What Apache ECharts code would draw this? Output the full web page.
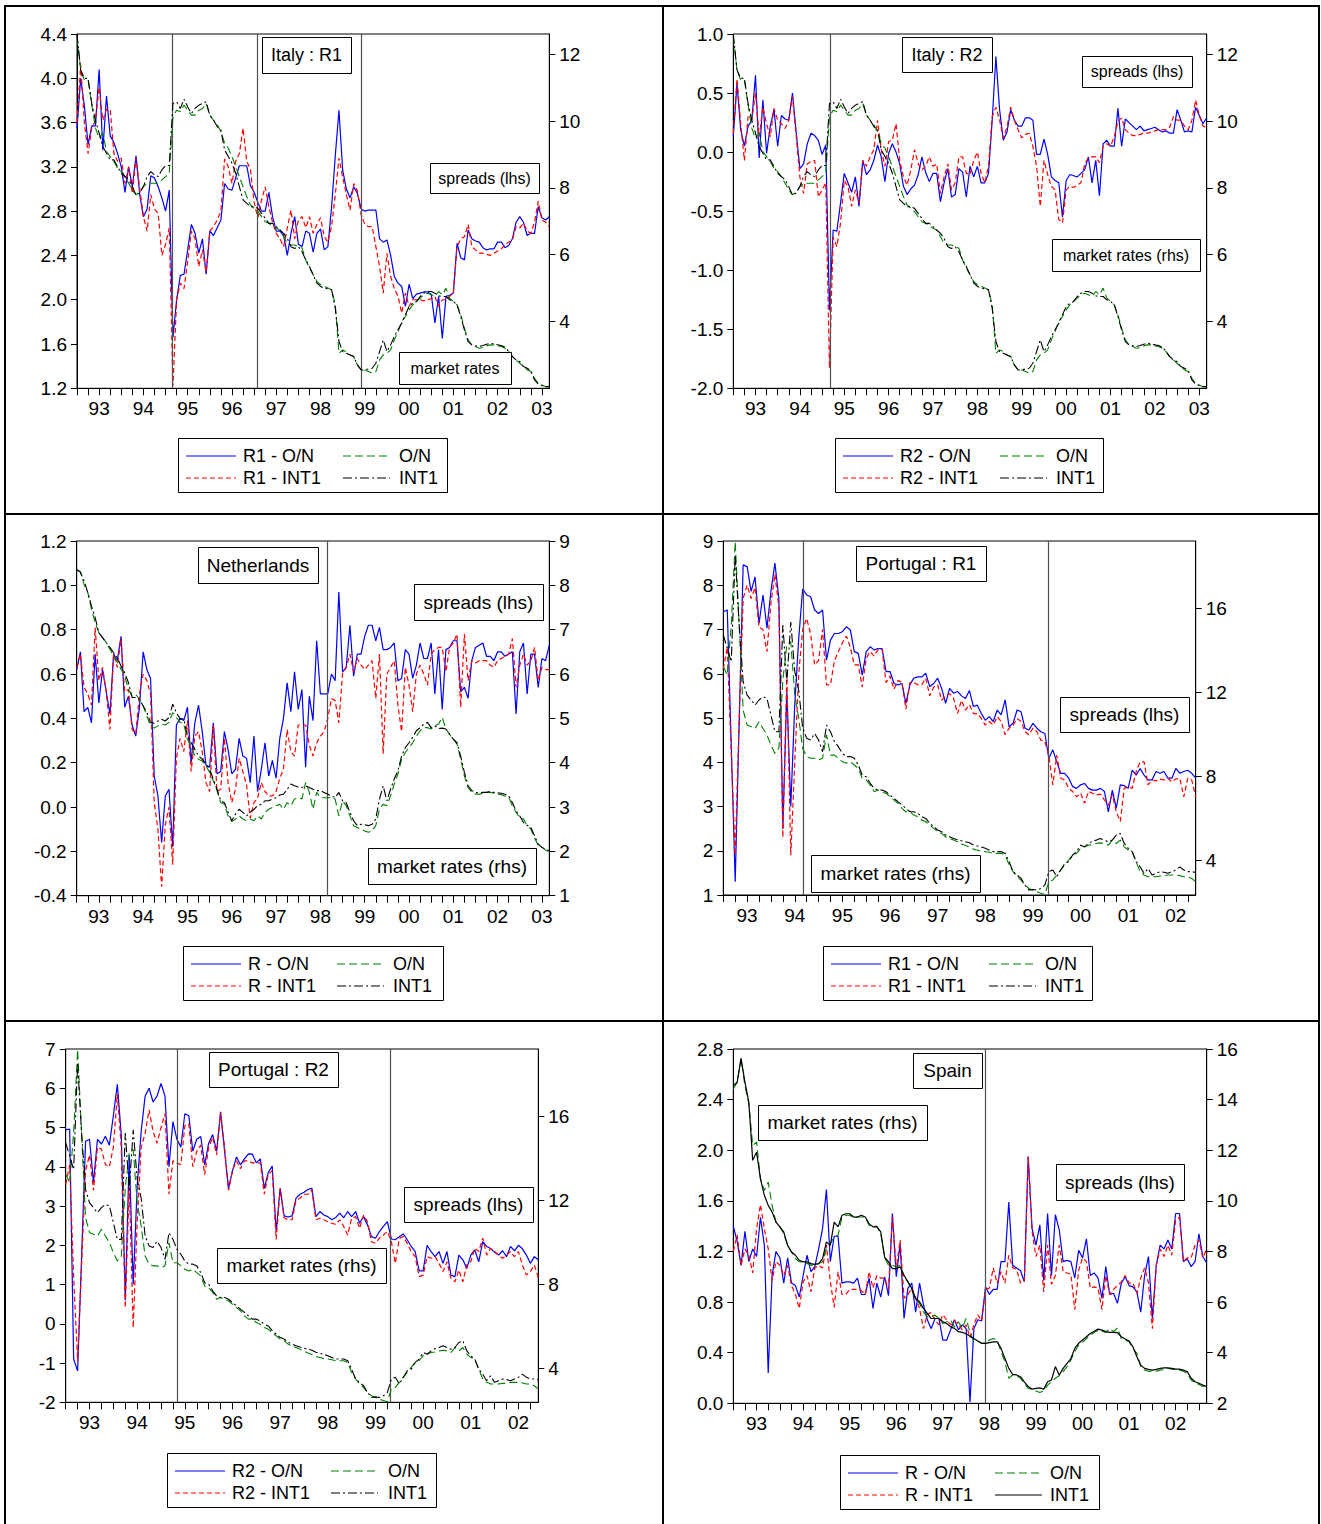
<!DOCTYPE html>
<html><head><meta charset="utf-8">
<script src="https://cdn.jsdelivr.net/npm/echarts@6/dist/echarts.min.js"></script>
<style>html,body{margin:0;padding:0;background:#fff}#c{width:1321px;height:1524px}</style>
</head><body><div id="c"></div>
<script>
// ---------------- DATA (monthly, first point = Jan 1993) ----------------
const YEARS = ['93','94','95','96','97','98','99','00','01','02','03'];

// Italy market rates (rhs, %)
const italyINT1 = [12.61,11.53,11.28,11.28,10.53,10.03,9.64,9.24,9.04,8.84,
8.84,8.64,8.44,8.34,8.24,8.04,7.79,7.84,8.04,8.34,
8.49,8.39,8.34,8.54,8.67,8.67,10.53,10.58,10.38,10.66,
10.43,10.23,10.38,10.48,10.53,10.58,10.18,10.03,9.84,9.74,
9.14,8.94,8.74,8.44,8.04,7.64,7.54,7.44,7.44,7.39,
7.24,7.09,6.94,6.94,6.84,6.74,6.64,6.49,6.24,6.19,
6.24,6.09,5.84,5.65,5.4,5.15,5.05,5.0,4.98,4.95,
4.4,3.4,3.1,3.05,3.0,2.95,2.7,2.55,2.55,2.58,
2.6,2.75,3.1,3.45,3.1,3.3,3.55,3.75,3.95,4.2,
4.45,4.55,4.6,4.75,4.85,4.9,4.9,4.85,4.77,4.75,
4.75,4.65,4.6,4.5,4.15,3.75,3.4,3.3,3.27,3.25,
3.28,3.32,3.35,3.33,3.3,3.28,3.23,3.1,2.95,2.85,
2.8,2.65,2.6,2.53,2.25,2.13,2.08,2.05,2.05];
const italyON = [12.53,11.53,11.23,11.23,10.48,9.79,9.49,9.64,9.09,8.94,
8.79,8.59,8.49,8.34,8.14,7.94,7.79,7.89,8.04,8.14,
8.14,8.14,8.14,8.24,8.34,8.44,10.13,10.33,10.28,10.48,
10.33,10.18,10.18,10.33,10.38,10.53,10.18,10.03,9.89,9.69,
9.34,9.19,8.94,8.64,8.34,8.04,7.74,7.49,7.39,7.29,
7.14,6.99,6.94,6.86,6.79,6.74,6.54,6.34,6.29,6.29,
6.24,6.2,5.84,5.6,5.4,5.2,5.1,5.05,5.0,4.95,
4.5,3.05,3.15,3.1,3.0,2.95,2.7,2.55,2.55,2.5,
2.45,2.5,2.85,3.0,3.05,3.15,3.45,3.7,4.0,4.15,
4.35,4.5,4.6,4.7,4.8,4.85,4.8,4.75,4.9,4.8,
5.0,4.7,4.6,4.5,4.2,3.8,3.45,3.3,3.25,3.2,
3.22,3.27,3.3,3.3,3.27,3.25,3.2,3.1,2.95,2.85,
2.75,2.65,2.55,2.5,2.3,2.15,2.1,2.05,2.05];

// Italy R1 spreads (lhs)
const itR1ON = [3.55,4.0,3.75,3.4,3.57,3.57,4.08,3.35,3.84,3.48,
3.42,3.32,3.2,2.97,3.2,3.02,3.3,2.95,2.75,2.82,
3.12,3.1,3.02,2.92,2.8,2.99,1.66,2.0,2.22,2.23,
2.45,2.68,2.6,2.42,2.55,2.23,2.62,2.58,2.65,2.72,
3.05,3.0,2.99,3.1,3.21,3.21,3.21,3.03,2.97,2.88,
2.8,2.8,2.97,2.75,2.62,2.62,2.58,2.4,2.6,2.75,
2.5,2.48,2.62,2.6,2.43,2.6,2.64,2.45,2.48,2.84,
3.3,3.71,3.17,3.0,2.92,3.02,2.96,2.82,2.8,2.81,
2.81,2.81,2.55,2.52,2.54,2.4,2.21,2.15,2.12,1.94,
2.14,2.01,2.05,2.06,2.07,2.07,2.05,1.79,2.03,1.65,
2.03,2.04,2.06,2.51,2.38,2.36,2.63,2.55,2.53,2.52,
2.47,2.45,2.46,2.46,2.52,2.52,2.47,2.49,2.55,2.7,
2.75,2.7,2.58,2.6,2.6,2.84,2.74,2.72,2.75];
const itR1INT1 = [3.6,4.12,3.6,3.32,3.55,3.62,3.92,3.62,3.72,3.72,
3.32,3.25,3.28,3.05,3.2,2.96,3.28,3.0,2.75,2.62,
2.95,2.82,2.78,2.4,2.5,2.65,1.22,2.0,2.15,2.1,
2.35,2.62,2.55,2.3,2.45,2.25,2.62,2.66,2.72,2.8,
3.27,3.2,3.05,3.25,3.32,3.55,3.25,3.18,2.88,2.74,
2.9,3.02,2.84,2.7,2.6,2.55,2.48,2.65,2.81,2.55,
2.72,2.75,2.65,2.75,2.6,2.68,2.74,2.57,2.52,2.66,
2.95,3.28,3.11,2.95,2.81,3.05,2.98,2.77,2.68,2.66,
2.66,2.48,2.3,2.06,2.42,2.21,2.1,2.03,1.88,2.06,
1.94,2.0,2.0,2.0,1.99,2.0,2.01,2.03,1.94,2.0,
2.0,2.03,2.06,2.48,2.55,2.57,2.68,2.48,2.45,2.42,
2.42,2.41,2.4,2.42,2.44,2.46,2.5,2.52,2.54,2.66,
2.65,2.69,2.62,2.6,2.7,2.89,2.72,2.7,2.66];

// Italy R2 spreads (lhs)
const itR2ON = [0.13,0.58,0.19,0.05,0.22,0.27,0.65,-0.05,0.44,-0.01,
0.22,0.36,0.05,0.31,0.28,0.27,0.5,0.17,-0.14,-0.1,
0.07,0.16,0.14,0.1,-0.02,0.06,-1.34,-0.66,-0.67,-0.43,
-0.18,-0.26,-0.34,-0.21,-0.46,-0.07,-0.19,-0.15,-0.07,0.06,
-0.04,-0.25,-0.01,0.07,0.0,-0.1,-0.29,-0.36,-0.31,-0.28,
-0.19,-0.04,-0.17,-0.25,-0.18,-0.18,-0.42,-0.26,-0.14,-0.38,
-0.36,-0.14,-0.17,-0.38,-0.12,-0.21,-0.12,-0.26,-0.26,-0.18,
0.27,0.81,0.36,0.1,0.17,0.36,0.27,0.22,0.22,0.29,
0.29,0.27,-0.02,-0.02,0.11,-0.02,-0.21,-0.24,-0.26,-0.55,
-0.24,-0.19,-0.2,-0.21,-0.18,-0.15,-0.04,-0.26,-0.07,-0.37,
0.07,0.1,0.05,0.05,0.37,0.05,0.28,0.25,0.22,0.19,
0.22,0.18,0.19,0.2,0.21,0.19,0.17,0.18,0.16,0.16,
0.36,0.27,0.17,0.18,0.17,0.38,0.31,0.24,0.29];
const itR2INT1 = [0.16,0.62,0.24,-0.07,0.3,0.27,0.5,0.13,0.38,0.24,
0.13,0.37,0.27,0.24,0.2,0.27,0.47,0.14,-0.21,-0.35,
-0.1,-0.08,-0.07,-0.38,-0.32,-0.26,-1.83,-0.72,-0.8,-0.6,
-0.24,-0.29,-0.46,-0.32,-0.43,-0.07,-0.12,-0.04,0.02,0.27,
0.02,-0.12,0.09,0.1,0.24,-0.07,-0.21,-0.28,-0.15,0.02,
-0.1,-0.15,-0.12,-0.04,-0.12,-0.1,-0.35,-0.21,-0.1,-0.32,
-0.26,-0.04,-0.04,-0.18,-0.19,-0.07,0.0,-0.18,-0.26,-0.12,
0.3,0.38,0.27,0.12,0.21,0.38,0.27,0.19,0.12,0.15,
0.16,0.05,-0.12,-0.46,-0.07,-0.19,-0.29,-0.32,-0.57,-0.6,
-0.32,-0.29,-0.3,-0.28,-0.26,-0.1,-0.05,-0.04,-0.04,-0.09,
0.05,0.07,0.05,0.13,0.26,0.29,0.19,0.16,0.14,0.14,
0.15,0.16,0.16,0.17,0.18,0.19,0.19,0.19,0.21,0.3,
0.27,0.27,0.22,0.19,0.27,0.44,0.31,0.22,0.21];

// Netherlands
const nlRON = [0.62,0.70,0.43,0.45,0.38,0.69,0.47,0.62,0.52,0.42,
0.69,0.66,0.77,0.45,0.5,0.37,0.32,0.45,0.70,0.62,
0.58,0.14,0.05,-0.16,0.05,0.08,-0.18,0.37,0.4,0.39,
0.45,0.2,0.38,0.46,0.34,0.19,0.18,0.38,0.15,0.16,
0.34,0.26,0.15,0.17,0.31,0.23,0.22,0.11,0.32,0.07,
0.17,0.29,0.14,0.21,0.13,0.31,0.4,0.56,0.43,0.61,
0.44,0.53,0.18,0.5,0.39,0.75,0.51,0.51,0.51,0.6,
0.57,0.97,0.61,0.63,0.82,0.59,0.69,0.69,0.77,0.82,
0.82,0.75,0.81,0.71,0.71,0.72,0.74,0.57,0.58,0.71,
0.69,0.58,0.64,0.74,0.67,0.67,0.74,0.51,0.71,0.44,
0.71,0.72,0.75,0.75,0.52,0.54,0.49,0.66,0.72,0.73,
0.74,0.68,0.68,0.66,0.7,0.7,0.68,0.69,0.7,0.42,
0.7,0.74,0.51,0.69,0.69,0.54,0.67,0.66,0.73];
const nlRINT1 = [0.63,0.69,0.54,0.51,0.46,0.81,0.57,0.63,0.52,0.35,
0.69,0.63,0.76,0.52,0.53,0.35,0.33,0.51,0.6,0.57,
0.51,0.02,-0.1,-0.36,-0.08,0.0,-0.26,0.22,0.31,0.25,
0.39,0.16,0.32,0.34,0.25,0.11,0.07,0.37,0.07,0.08,
0.31,0.11,0.02,0.08,0.22,0.16,0.1,-0.05,0.02,0.04,
0.11,0.07,0.05,0.05,0.07,0.13,0.17,0.35,0.25,0.23,
0.37,0.37,0.37,0.28,0.23,0.29,0.32,0.34,0.4,0.49,
0.48,0.38,0.6,0.63,0.69,0.61,0.67,0.64,0.62,0.64,
0.66,0.49,0.69,0.24,0.6,0.63,0.66,0.46,0.34,0.63,
0.55,0.43,0.6,0.64,0.6,0.55,0.69,0.71,0.72,0.72,
0.61,0.72,0.74,0.78,0.45,0.78,0.57,0.66,0.65,0.66,
0.66,0.66,0.64,0.63,0.66,0.67,0.68,0.69,0.76,0.54,
0.64,0.69,0.64,0.66,0.72,0.57,0.63,0.62,0.62];
const nlINT1 = [8.35,8.3,8.1,7.84,7.53,7.27,6.93,6.82,6.71,6.6,
6.48,6.37,6.18,6.03,5.81,5.47,5.47,5.43,5.28,5.13,
4.91,4.89,4.94,4.98,4.94,5.02,5.32,5.13,4.99,4.99,
4.6,4.45,4.3,4.15,4.08,3.97,3.85,3.63,3.4,3.14,
3.1,2.88,2.69,2.84,2.95,2.88,2.8,2.88,2.95,3.03,
3.06,3.14,3.14,3.18,3.21,3.27,3.29,3.4,3.52,3.48,
3.45,3.44,3.48,3.44,3.4,3.37,3.37,3.33,3.29,3.25,
3.21,3.33,3.14,3.1,2.88,2.69,2.58,2.61,2.6,2.58,
2.61,2.73,3.18,3.48,3.14,3.4,3.63,3.82,4.15,4.34,
4.45,4.57,4.72,4.79,4.87,4.91,4.79,4.83,4.77,4.78,
4.76,4.64,4.53,4.45,4.15,3.78,3.48,3.37,3.33,3.32,
3.33,3.33,3.35,3.33,3.32,3.31,3.29,3.25,3.1,2.91,
2.8,2.65,2.59,2.54,2.35,2.16,2.09,2.05,2.01];
const nlON = [8.35,8.3,8.02,7.84,7.46,7.16,6.93,6.82,6.71,6.56,
6.41,6.26,6.11,5.96,5.66,5.51,5.54,5.43,5.28,5.06,
4.83,4.78,4.83,4.87,4.85,4.91,5.13,5.02,4.91,4.87,
4.53,4.34,4.15,4.08,4.04,3.93,3.78,3.59,3.37,3.1,
3.06,2.8,2.67,2.73,2.8,2.73,2.69,2.73,2.69,2.8,
2.73,2.88,2.95,2.99,3.03,3.06,2.95,3.1,3.03,3.18,
3.21,3.18,3.55,3.33,2.95,3.33,3.21,3.21,3.21,3.22,
3.18,2.8,3.14,3.03,2.8,2.58,2.54,2.5,2.46,2.43,
2.46,2.58,2.95,3.06,3.03,3.25,3.52,3.74,4.08,4.23,
4.34,4.45,4.6,4.72,4.79,4.79,4.76,4.83,4.87,5.02,
4.76,4.64,4.53,4.42,4.08,3.7,3.44,3.33,3.29,3.29,
3.31,3.33,3.33,3.31,3.29,3.28,3.25,3.21,3.03,2.88,
2.76,2.73,2.58,2.5,2.31,2.13,2.09,2.03,1.99];

// Portugal market rates (rhs)
const ptINT1 = [14.73,14.1,13.46,18.54,15.2,12.51,11.87,11.64,11.4,11.64,
11.8,11.72,10.93,10.13,10.13,15.2,12.5,15.35,13.0,12.1,
10.3,9.82,9.74,10.05,9.74,9.18,10.45,10.13,9.66,9.42,
9.1,8.95,8.95,8.87,8.55,8.07,7.99,7.68,7.44,7.36,
7.36,7.28,7.12,6.96,6.81,6.65,6.49,6.33,6.33,6.25,
6.09,6.01,5.78,5.62,5.46,5.38,5.22,5.14,5.06,5.0,
4.95,4.9,4.85,4.75,4.7,4.65,4.59,4.5,4.43,4.43,
4.43,4.35,3.95,3.48,3.32,3.16,2.84,2.6,2.63,2.6,
2.68,2.84,3.48,3.56,3.24,3.56,3.87,3.95,4.27,4.43,
4.74,4.66,4.82,4.93,4.98,5.06,4.98,4.9,4.98,5.22,
5.3,4.82,4.59,4.43,3.95,3.71,3.4,3.63,3.32,3.4,
3.48,3.45,3.4,3.48,3.56,3.71,3.56,3.48,3.48,3.44];
const ptON = [13.23,12.83,15.2,19.17,15.2,11.16,10.45,10.37,10.29,10.61,
10.29,9.98,9.5,9.1,9.34,12.59,14.26,14.41,11.88,10.77,
9.34,8.95,8.87,8.87,8.79,8.87,9.98,9.02,9.02,8.87,
8.71,8.63,8.71,8.55,8.39,7.91,7.84,7.6,7.28,7.36,
7.28,7.2,7.04,6.88,6.73,6.49,6.33,6.33,6.17,6.09,
5.93,5.85,5.7,5.54,5.38,5.3,5.14,5.06,4.98,4.9,
4.8,4.72,4.65,4.55,4.5,4.45,4.43,4.4,4.35,4.35,
4.35,4.27,3.79,3.48,3.24,3.08,2.84,2.68,2.6,2.52,
2.45,2.4,3.0,3.08,3.32,3.56,3.79,4.03,4.27,4.35,
4.59,4.66,4.74,4.77,4.82,4.85,4.82,4.74,4.98,4.82,
4.98,4.66,4.51,4.43,3.95,3.48,3.32,3.24,3.24,3.24,
3.27,3.29,3.32,3.32,3.32,3.29,3.24,3.24,3.16,3.0];

// Portugal R1 spreads (lhs)
const ptR1ON = [7.4,7.44,4.4,1.3,4.9,8.46,8.42,7.86,8.19,7.14,
7.78,7.03,7.86,8.5,7.7,2.5,5.6,3.0,5.3,6.8,
7.92,7.78,7.74,7.44,7.36,7.44,6.31,6.76,6.91,6.91,
6.95,7.06,6.99,6.5,6.46,5.97,6.5,6.61,6.54,6.57,
6.57,6.05,6.05,5.78,5.75,5.78,5.33,5.75,5.9,5.93,
5.93,6.01,5.71,5.78,5.9,5.67,5.33,5.67,5.56,5.6,
5.5,5.44,5.62,5.26,5.29,5.1,4.95,5.03,4.92,5.18,
5.07,5.41,4.8,4.88,5.18,5.14,4.77,4.73,4.88,4.77,
4.69,4.65,4.09,4.28,4.01,3.75,3.75,3.64,3.45,3.41,
3.49,3.52,3.41,3.37,3.37,3.41,3.34,2.88,3.37,2.96,
3.49,3.47,3.41,3.82,3.71,3.86,3.71,3.6,3.6,3.79,
3.75,3.79,3.64,3.64,3.86,3.75,3.79,3.82,3.75,3.64];
const ptR1INT1 = [6.1,6.6,4.2,1.9,5.0,7.7,8.0,7.7,7.95,7.05,
7.0,6.5,7.6,8.25,7.5,2.3,6.0,1.9,4.0,6.0,
7.0,7.25,6.9,6.2,6.3,7.0,5.75,5.75,6.3,6.5,
6.7,6.85,6.6,6.2,6.2,5.7,6.35,6.5,6.4,6.55,
6.55,5.8,5.95,5.65,5.85,5.8,5.2,5.8,5.8,5.75,
5.75,5.9,5.5,5.7,5.75,5.4,5.5,5.55,5.45,5.1,
5.4,5.18,5.3,5.1,5.1,4.99,4.84,4.92,4.84,5.03,
4.92,4.62,4.77,4.84,4.99,4.92,4.69,4.62,4.77,4.69,
4.5,4.47,4.16,3.49,4.16,3.64,3.6,3.41,3.34,3.22,
3.3,3.07,3.34,3.3,3.26,3.28,3.15,3.03,3.26,2.88,
2.66,3.41,3.45,3.41,3.79,4.01,4.01,3.49,3.6,3.58,
3.62,3.6,3.64,3.56,3.62,3.64,3.22,3.64,3.6,3.22];

// Portugal R2 spreads (lhs)
const ptR2ON = [4.94,4.96,-0.9,-1.2,1.7,4.65,4.7,3.6,4.7,4.58,
4.78,4.55,5.3,6.1,4.8,0.6,4.3,1.0,3.5,4.9,
5.8,6.0,5.65,5.8,6.12,5.8,4.0,5.15,4.7,4.5,
5.35,5.3,4.4,4.7,4.77,4.05,4.6,4.82,4.4,5.4,
4.4,3.45,3.9,4.25,4.05,4.2,4.33,4.32,4.1,4.2,
3.45,3.85,4.02,2.35,3.45,2.75,2.72,2.75,3.2,3.3,
3.35,3.42,3.45,2.73,2.86,2.77,2.73,2.65,2.71,2.82,
2.7,2.86,2.73,2.86,2.56,2.73,2.52,2.22,2.18,2.35,
2.48,2.6,2.16,2.14,2.22,2.29,2.14,1.97,1.84,1.35,
1.35,2.0,1.84,1.71,1.84,1.54,1.84,1.24,1.2,1.75,
1.63,1.41,1.75,1.88,1.58,2.09,1.97,1.92,1.82,1.75,
1.86,1.71,1.97,1.86,2.0,1.91,1.75,1.54,1.71,1.63];
const ptR2INT1 = [3.55,4.05,1.2,-0.95,1.5,3.9,4.3,3.4,4.5,4.45,
4.05,4.0,4.5,5.85,4.5,0.4,3.5,-0.1,2.6,4.5,
4.85,5.45,4.9,4.6,5.0,5.35,3.3,4.15,4.1,4.05,
5.05,5.1,4.0,4.4,4.55,3.8,4.5,4.75,4.3,5.38,
4.5,3.4,3.9,4.15,3.95,4.15,4.15,4.1,4.1,4.1,
3.3,3.8,3.9,2.15,3.45,2.7,2.65,2.65,3.15,3.2,
3.3,3.3,3.41,2.65,2.69,2.65,2.6,2.56,2.53,2.65,
2.48,2.26,2.69,2.73,2.43,2.77,2.6,2.09,2.05,2.18,
2.26,2.35,2.09,1.54,2.18,2.22,2.05,1.84,1.71,1.2,
1.24,1.71,1.67,1.71,1.54,1.33,1.58,1.16,1.07,1.37,
1.07,1.5,1.58,1.92,1.84,2.18,1.75,1.92,1.84,1.75,
1.67,1.75,1.84,1.71,1.84,1.5,1.24,1.33,1.5,1.18];

// Spain
const esRON = [1.4,1.28,1.09,1.36,1.12,1.22,1.16,1.47,1.25,0.24,
1.01,1.2,1.15,0.95,1.15,0.95,0.93,0.84,1.01,1.17,
1.04,1.08,1.22,1.38,1.69,1.12,1.32,1.32,0.95,0.96,
0.96,0.95,0.99,0.86,0.86,0.99,0.75,0.95,0.84,1.0,
0.85,1.5,1.0,1.26,0.67,0.91,0.95,0.72,0.95,0.78,
0.66,0.59,0.67,0.67,0.5,0.5,0.58,0.66,0.58,0.62,
0.59,0.01,0.59,0.66,0.65,0.92,0.86,0.9,0.9,1.12,
1.12,1.59,1.09,1.07,1.05,0.96,1.95,1.38,1.25,1.41,
0.97,1.5,1.01,1.49,1.37,1.12,1.13,1.12,0.99,1.21,
1.15,1.3,1.01,1.03,0.99,0.83,1.08,0.86,0.87,0.79,
0.95,1.0,0.93,0.92,0.88,0.72,1.01,1.16,0.67,1.09,
1.25,1.22,1.29,1.22,1.5,1.5,1.12,1.14,1.08,1.12,
1.34,1.16,1.11];
const esRINT1 = [1.2,1.33,1.09,1.22,1.17,1.03,1.38,1.57,1.38,1.22,
0.97,1.12,1.09,1.01,1.09,0.93,0.86,0.75,0.96,1.01,
0.88,1.07,1.09,1.07,1.25,0.96,0.76,1.04,0.86,0.86,
0.9,0.9,0.9,0.89,0.86,1.04,0.91,1.01,0.99,0.99,
0.9,1.47,1.07,1.29,0.83,0.86,0.91,0.83,0.75,0.59,
0.7,0.72,0.66,0.62,0.7,0.66,0.62,0.65,0.62,0.58,
0.62,0.52,0.62,0.7,0.65,0.9,0.91,1.07,0.95,1.04,
0.95,1.17,1.07,1.06,0.95,0.97,1.95,1.36,1.16,1.25,
0.88,1.25,0.94,1.01,1.25,1.04,1.03,1.02,0.74,1.05,
1.15,1.12,0.91,0.92,0.91,0.74,1.01,0.86,0.9,0.93,
0.96,1.01,0.95,0.95,0.87,0.99,1.07,0.95,0.59,1.09,
1.22,1.16,1.25,1.17,1.45,1.47,1.12,1.15,1.15,1.25,
1.29,1.15,1.22];
const esINT1 = [14.55,14.69,15.63,14.69,13.9,11.6,11.92,10.87,10.22,9.82,
9.56,9.16,8.97,8.77,8.24,7.98,7.85,7.65,7.59,7.59,
7.52,7.49,7.52,7.72,8.38,8.24,9.16,8.97,9.43,9.49,
9.49,9.36,9.36,9.43,9.36,9.1,8.97,8.97,8.77,7.78,
7.59,7.32,7.32,7.39,7.06,6.8,6.53,6.14,6.01,5.75,
5.55,5.35,5.35,5.35,5.22,5.15,5.02,4.96,4.83,4.8,
4.75,4.65,4.56,4.46,4.37,4.37,4.4,4.43,4.43,4.17,
3.77,3.38,3.14,3.12,3.05,2.85,2.66,2.56,2.59,2.61,
2.56,2.85,2.92,3.45,3.12,3.38,3.58,3.77,4.17,4.37,
4.5,4.63,4.76,4.85,4.93,4.89,4.83,4.8,4.8,4.79,
4.63,4.54,4.46,4.23,3.84,3.51,3.38,3.34,3.31,3.34,
3.38,3.4,3.4,3.38,3.35,3.35,3.31,3.25,2.99,2.85,
2.79,2.72,2.66];
const esON = [14.42,14.69,15.61,14.55,13.83,12.19,12.32,10.87,10.41,10.74,
9.82,9.16,8.97,8.7,8.24,7.98,7.72,7.59,7.56,7.52,
7.46,7.46,7.52,7.59,8.11,8.31,8.57,8.64,9.36,9.43,
9.43,9.33,9.36,9.36,9.36,9.03,8.97,9.0,8.7,7.75,
7.46,7.46,7.39,7.46,7.0,6.8,6.47,6.14,5.94,5.61,
5.42,5.42,5.48,5.35,5.15,5.22,5.29,5.02,5.22,4.96,
5.35,4.8,4.43,4.46,4.37,4.37,4.5,4.56,4.5,4.04,
3.64,2.99,3.12,3.09,2.99,2.79,2.59,2.56,2.49,2.43,
2.49,2.72,2.85,2.99,3.09,3.25,3.45,3.71,4.04,4.3,
4.41,4.56,4.69,4.8,4.89,4.85,4.8,4.96,4.83,4.98,
4.56,4.5,4.43,4.17,3.97,3.45,3.31,3.27,3.25,3.27,
3.31,3.34,3.38,3.35,3.34,3.31,3.27,3.18,2.92,2.79,
2.75,2.66,2.72];

// Vertical break lines (decimal years)
const breaksItR1 = [1995.16, 1997.07, 1999.41];
const breaksItR2 = [1995.18];
const breaksNL = [1998.665];
const breaksPtR1 = [1994.667, 1999.82];
const breaksPtR2 = [1995.335, 1999.82];
const breaksES = [1998.42];

// Axis tick labels
const ticksL1 = [1.2,1.6,2.0,2.4,2.8,3.2,3.6,4.0,4.4];
const ticksL2 = [-2.0,-1.5,-1.0,-0.5,0.0,0.5,1.0];
const ticksL3 = [-0.4,-0.2,0.0,0.2,0.4,0.6,0.8,1.0,1.2];
const ticksL4 = [1,2,3,4,5,6,7,8,9];
const ticksL5 = [-2,-1,0,1,2,3,4,5,6,7];
const ticksL6 = [0.0,0.4,0.8,1.2,1.6,2.0,2.4,2.8];
const ticksRit = [4,6,8,10,12];
const ticksRnl = [1,2,3,4,5,6,7,8,9];
const ticksRpt = [4,8,12,16];
const ticksRes = [2,4,6,8,10,12,14,16];

// Legend names
const namesR1 = ['R1 - O/N','R1 - INT1','O/N','INT1'];
const namesR2 = ['R2 - O/N','R2 - INT1','O/N','INT1'];
const namesR = ['R - O/N','R - INT1','O/N','INT1'];

// ---------------- CHART ----------------
const FONT = '"Liberation Sans", Arial, Helvetica, sans-serif';
const STY = [
  {color:'#0000ff', type:'solid', width:1.2},
  {color:'#ff0000', type:[5,3], width:1.2},
  {color:'#008000', type:[8,4], width:1.1},
  {color:'#000000', type:[9,3,2,3], width:1.1}
];

const panels = [
 {g:[77,34,472.3,354.3], L:[1.2,4.4], lt:ticksL1, dec:1, R:[2.0,12.61], rt:ticksRit,
  d:[itR1ON,itR1INT1,italyON,italyINT1], names:namesR1, br:breaksItR1, solidBlack:false,
  boxes:[['Italy : R1',262,37,89,36,18],['spreads (lhs)',430,163,109,30,16],['market rates',399,352,112,32,16]],
  lg:[178,438,269,54,165,221]},
 {g:[733.3,34,473.4,354.3], L:[-2.0,1.0], lt:ticksL2, dec:1, R:[2.0,12.61], rt:ticksRit,
  d:[itR2ON,itR2INT1,italyON,italyINT1], names:namesR2, br:breaksItR2, solidBlack:false,
  boxes:[['Italy : R2',902,37,90,35,18],['spreads (lhs)',1082,56,110,31,16],['market rates (rhs)',1052,239,148,32,16]],
  lg:[835,438,268,54,165,221]},
 {g:[76.7,541,472.6,354.7], L:[-0.4,1.2], lt:ticksL3, dec:1, R:[1,9], rt:ticksRnl,
  d:[nlRON,nlRINT1,nlON,nlINT1], names:namesR, br:breaksNL, solidBlack:false,
  boxes:[['Netherlands',198,547,120,36,19],['spreads (lhs)',414,584,129,36,19],['market rates (rhs)',368,848,168,36,19]],
  lg:[183,946,260,54,154,210]},
 {g:[723.3,541,472.4,354], L:[1,9], lt:ticksL4, dec:0, R:[2.37,19.2], rt:ticksRpt,
  d:[ptR1ON,ptR1INT1,ptON,ptINT1], names:namesR1, br:breaksPtR1, solidBlack:false,
  boxes:[['Portugal : R1',856,546,130,35,19],['spreads (lhs)',1060,697,129,35,19],['market rates (rhs)',811,855,169,37,19]],
  lg:[823,946,269,54,166,222]},
 {g:[65.7,1049,472.6,353.3], L:[-2,7], lt:ticksL5, dec:0, R:[2.37,19.2], rt:ticksRpt,
  d:[ptR2ON,ptR2INT1,ptON,ptINT1], names:namesR2, br:breaksPtR2, solidBlack:false,
  boxes:[['Portugal : R2',209,1052,129,35,19],['spreads (lhs)',404,1187,129,35,19],['market rates (rhs)',217,1248,169,35,19]],
  lg:[167,1453,269,54,164,221]},
 {g:[733.3,1049,473.4,354.3], L:[0,2.8], lt:ticksL6, dec:1, R:[2,16], rt:ticksRes,
  d:[esRON,esRINT1,esON,esINT1], names:namesR, br:breaksES, solidBlack:true,
  boxes:[['Spain',913,1053,69,35,19],['market rates (rhs)',758,1105,169,35,19],['spreads (lhs)',1056,1164,128,36,19]],
  lg:[840,1455,259,54,155,210]}
];

const grid=[], xAxis=[], yAxis=[], series=[], graphic=[];
const axisLbl = {color:'#000', fontSize:19, fontFamily:FONT};

panels.forEach((p,i)=>{
  const n = p.d[0].length;
  const xmax = 1993 + (n-1)/12;
  grid.push({left:p.g[0], top:p.g[1], width:p.g[2], height:p.g[3], show:true, borderColor:'#000', borderWidth:1, backgroundColor:'#fff'});
  const quarters=[], mids=[];
  for(let t=1993; t<=xmax+1e-9; t+=0.25) quarters.push(+t.toFixed(2));
  for(let y=1993; y+0.5<=xmax; y++) mids.push(y+0.5);
  xAxis.push({type:'value', gridIndex:i, min:1993, max:xmax, position:'bottom', splitLine:{show:false},
    axisLine:{show:true, onZero:false, lineStyle:{color:'#000', width:1}},
    axisTick:{show:true, length:7, lineStyle:{color:'#000'}, customValues:quarters},
    axisLabel:Object.assign({customValues:mids, margin:11, formatter:v=>YEARS[Math.round(v-1993.5)]}, axisLbl)});
  yAxis.push({type:'value', gridIndex:i, position:'left', min:p.L[0], max:p.L[1], splitLine:{show:false},
    axisLine:{show:true, onZero:false, lineStyle:{color:'#000'}},
    axisTick:{show:true, length:6, lineStyle:{color:'#000'}, customValues:p.lt},
    axisLabel:Object.assign({customValues:p.lt, margin:10, formatter:v=>v.toFixed(p.dec)}, axisLbl)});
  yAxis.push({type:'value', gridIndex:i, position:'right', min:p.R[0], max:p.R[1], splitLine:{show:false},
    axisLine:{show:true, onZero:false, lineStyle:{color:'#000'}},
    axisTick:{show:true, length:6, lineStyle:{color:'#000'}, customValues:p.rt},
    axisLabel:Object.assign({customValues:p.rt, margin:10, formatter:v=>String(v)}, axisLbl)});
  p.d.forEach((arr,k)=>{
    const st = (k===3 && p.solidBlack) ? {color:'#000', type:'solid', width:1.2} : STY[k];
    const s = {type:'line', name:p.names[k], xAxisIndex:i, yAxisIndex:2*i+(k<2?0:1),
      data:arr.map((v,j)=>[1993+j/12, v]), showSymbol:false, symbol:'none', animation:false,
      lineStyle:{color:st.color, type:st.type, width:st.width}, z:3+k};
    if(k===0){
      s.markLine={silent:true, symbol:['none','none'], animation:false, label:{show:false},
        lineStyle:{color:'#505050', width:1.2, type:'solid'}, data:p.br.map(x=>({xAxis:x}))};
    }
    series.push(s);
  });
  // text boxes
  p.boxes.forEach(b=>{
    graphic.push({type:'rect', z:50, shape:{x:b[1]+0.5,y:b[2]+0.5,width:b[3],height:b[4]}, style:{fill:'#fff', stroke:'#000', lineWidth:1}});
    graphic.push({type:'text', z:51, x:b[1]+b[3]/2, y:b[2]+b[4]/2, style:{text:b[0], fill:'#000', fontSize:b[5], fontFamily:FONT, align:'center', verticalAlign:'middle'}});
  });
  // legend box
  const [lx,ly,lw,lh,c2,t2]=p.lg;
  graphic.push({type:'rect', z:50, shape:{x:lx+0.5,y:ly+0.5,width:lw,height:lh}, style:{fill:'#fff', stroke:'#000', lineWidth:1}});
  const pos = [[0,0],[0,1],[1,0],[1,1]]; // [col,row] for series k
  p.names.forEach((nm,k)=>{
    const col=pos[k][0], row=pos[k][1];
    const yy = ly + 18 + row*22;
    const sx = lx + (col? c2 : 8), ex = sx + (col? 47 : 50), tx = lx + (col? t2 : 65);
    const st = (k===3 && p.solidBlack) ? {color:'#000', type:'solid', width:1.2} : STY[k];
    graphic.push({type:'line', z:51, shape:{x1:sx,y1:yy,x2:ex,y2:yy}, style:{stroke:st.color, lineWidth:st.width, lineDash: st.type==='solid'? null : st.type}});
    graphic.push({type:'text', z:51, x:tx, y:yy, style:{text:nm, fill:'#000', fontSize:18, fontFamily:FONT, align:'left', verticalAlign:'middle'}});
  });
});

// page frame
graphic.push({type:'rect', z:60, shape:{x:5,y:6,width:1314,height:1530}, style:{fill:'none', stroke:'#000', lineWidth:2}});
graphic.push({type:'line', z:60, shape:{x1:663,y1:6,x2:663,y2:1524}, style:{stroke:'#000', lineWidth:2}});
graphic.push({type:'line', z:60, shape:{x1:5,y1:514,x2:1319,y2:514}, style:{stroke:'#000', lineWidth:2}});
graphic.push({type:'line', z:60, shape:{x1:5,y1:1021,x2:1319,y2:1021}, style:{stroke:'#000', lineWidth:2}});

const chart = echarts.init(document.getElementById('c'), null, {renderer:'svg', width:1321, height:1524});
chart.setOption({backgroundColor:'#fff', animation:false, grid, xAxis, yAxis, series, graphic});
</script>
</body></html>
